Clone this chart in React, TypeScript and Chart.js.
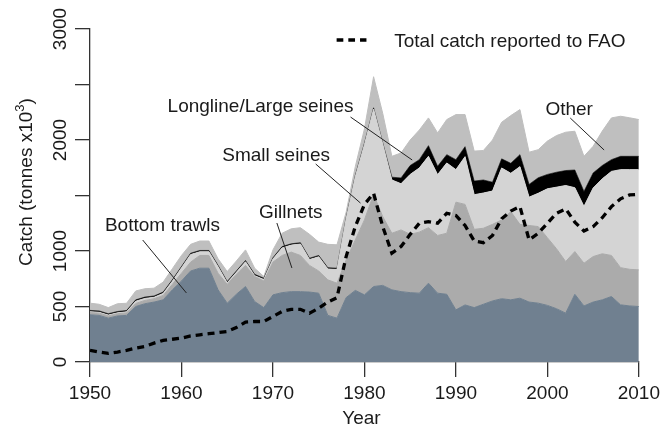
import React, { useEffect, useRef } from "react";
import { Chart, registerables } from "chart.js";

Chart.register(...registerables);

// ---------- DATA ----------
const years = [
  1950, 1951, 1952, 1953, 1954, 1955, 1956, 1957, 1958, 1959,
  1960, 1961, 1962, 1963, 1964, 1965, 1966, 1967, 1968, 1969,
  1970, 1971, 1972, 1973, 1974, 1975, 1976, 1977, 1978, 1979,
  1980, 1981, 1982, 1983, 1984, 1985, 1986, 1987, 1988, 1989,
  1990, 1991, 1992, 1993, 1994, 1995, 1996, 1997, 1998, 1999,
  2000, 2001, 2002, 2003, 2004, 2005, 2006, 2007, 2008, 2009, 2010,
];

const bottomTrawls = [
  425, 420, 395, 415, 420, 500, 525, 540, 560, 650,
  730, 820, 845, 845, 650, 530, 610, 680, 545, 490,
  605, 625, 634, 634, 630, 620, 420, 395, 580, 645,
  605, 680, 690, 650, 634, 625, 620, 710, 620, 610,
  470, 514, 490, 520, 550, 570, 560, 575, 540, 530,
  510, 480, 440, 610, 505, 540, 560, 590, 515, 505, 500,
];

const gillnets = [
  20, 20, 20, 20, 22, 28, 30, 30, 40, 50,
  70, 80, 115, 115, 150, 170, 180, 190, 225, 240,
  295, 335, 356, 326, 240, 200, 320, 315, 340, 455,
  675, 830, 620, 510, 556, 525, 550, 500, 520, 550,
  970, 906, 705, 685, 690, 710, 795, 665, 690, 690,
  610, 540, 465, 385, 385, 410, 415, 370, 335, 330, 330,
];

const smallSeines = [
  8, 8, 8, 8, 10, 20, 18, 13, 18, 28,
  48, 68, 33, 33, 58, 13, 18, 33, 8, 13,
  28, 68, 63, 103, 53, 128, 98, 123, 368, 568,
  678, 768, 653, 480, 416, 540, 578, 643, 548, 633,
  293, 430, 312, 317, 300, 468, 345, 520, 255, 300,
  440, 555, 685, 575, 512, 617, 675, 757, 883, 898, 903,
];

const longlineLargeSeines = [
  12, 12, 12, 12, 12, 12, 12, 12, 12, 12,
  12, 12, 12, 12, 12, 12, 12, 12, 12, 12,
  12, 12, 12, 12, 12, 12, 12, 12, 12, 12,
  12, 12, 12, 25, 52, 80, 75, 96, 75, 75,
  90, 90, 123, 118, 80, 82, 90, 108, 115, 140,
  130, 135, 135, 160, 135, 136, 120, 106, 120, 120, 120,
];

const other = [
  65, 60, 55, 70, 65, 80, 75, 70, 90, 100,
  100, 80, 85, 85, 60, 90, 90, 95, 55, 15,
  70, 120, 135, 135, 215, 120, 210, 211, 50, 80,
  130, 280, 265, 188, 225, 230, 267, 250, 301, 316,
  406, 289, 270, 265, 380, 330, 430, 406, 290, 253,
  300, 330, 345, 349, 316, 240, 310, 376, 361, 347, 331,
];

const faoReported = [
  105, 90, 78, 90, 105, 125, 140, 170, 195, 205,
  215, 235, 245, 255, 265, 275, 310, 360, 365, 365,
  410, 455, 475, 475, 440, 485, 540, 580, 950, 1220,
  1420, 1520, 1220, 980, 1040, 1150, 1250, 1265, 1250, 1340,
  1320, 1230, 1090, 1075, 1140, 1290, 1360, 1400, 1100, 1160,
  1250, 1340, 1380, 1260, 1180, 1220, 1300, 1400, 1470, 1505, 1510,
];

const xTickLabels = [1950, 1960, 1970, 1980, 1990, 2000, 2010];
const yTicks = [0, 500, 1000, 1500, 2000, 2500, 3000];
const yTickLabels = [0, 500, 1000, 2000, 3000];

const seriesNames = ["Bottom trawls", "Gillnets", "Small seines", "Longline/Large seines", "Other"];
const legendLabel = "Total catch reported to FAO";

// annotation labels and leader lines, in data units (year, catch)
const annotations = [
  { text: "Longline/Large seines", tx: 1958.48, ty: 2252, x1: 1978.48, y1: 2207, x2: 1985.22, y2: 1820 },
  { text: "Small seines", tx: 1964.46, ty: 1811, x1: 1974.67, y1: 1784, x2: 1979.57, y2: 1432 },
  { text: "Gillnets", tx: 1968.48, ty: 1297, x1: 1970.43, y1: 1252, x2: 1972.07, y2: 847 },
  { text: "Bottom trawls", tx: 1951.63, ty: 1176, x1: 1955.76, y1: 1099, x2: 1960.54, y2: 622 },
  { text: "Other", tx: 1999.78, ty: 2225, x1: 2002.5, y1: 2198, x2: 2006.2, y2: 1910 },
];
const legendPos = { x1: 1976.96, x2: 1980.22, y: 2901, tx: 1983.26, ty: 2838 };

// ---------- STYLE ----------
const FONT = '"Liberation Sans", Arial, Helvetica, sans-serif';
const TEXT = "#1a1a1a";
const AXIS = "#333333";
const COLORS = ["#708090", "#ababab", "#d4d4d4", "#000000", "#bfbfbf"];

const pts = (vals: number[]) => vals.map((v, i) => ({ x: years[i], y: v }));

const overlayPlugin = {
  id: "overlay",
  afterDraw(chart: any) {
    const { ctx, chartArea } = chart;
    const xs = chart.scales.x;
    const ys = chart.scales.y;
    const f = (s: number) => `${s}px ${FONT}`;
    ctx.save();
    ctx.fillStyle = TEXT;

    // rotated y tick labels
    ctx.font = f(19);
    ctx.textAlign = "center";
    ctx.textBaseline = "alphabetic";
    for (const v of yTickLabels) {
      const py = ys.getPixelForValue(v);
      ctx.save();
      ctx.translate(chartArea.left - 24, py);
      ctx.rotate(-Math.PI / 2);
      ctx.fillText(String(v), 0, 0);
      ctx.restore();
    }

    // y title with superscript
    {
      const main = "Catch (tonnes x10";
      const sup = "3";
      const tail = ")";
      ctx.font = f(19);
      const wMain = ctx.measureText(main).width;
      const wTail = ctx.measureText(tail).width;
      ctx.font = f(13);
      const wSup = ctx.measureText(sup).width;
      const total = wMain + wSup + wTail;
      ctx.save();
      ctx.translate(chartArea.left - 58, 182);
      ctx.rotate(-Math.PI / 2);
      ctx.textAlign = "left";
      let cx = -total / 2;
      ctx.font = f(19);
      ctx.fillText(main, cx, 0);
      cx += wMain;
      ctx.font = f(13);
      ctx.fillText(sup, cx, -8);
      cx += wSup;
      ctx.font = f(19);
      ctx.fillText(tail, cx, 0);
      ctx.restore();
    }

    // x title
    ctx.font = f(19);
    ctx.textAlign = "center";
    ctx.fillText("Year", (chartArea.left + chartArea.right) / 2 - 3, 424);

    // annotations
    ctx.textAlign = "left";
    ctx.strokeStyle = "#222222";
    ctx.lineWidth = 1;
    for (const a of annotations) {
      ctx.fillText(a.text, xs.getPixelForValue(a.tx), ys.getPixelForValue(a.ty));
      ctx.beginPath();
      ctx.moveTo(xs.getPixelForValue(a.x1), ys.getPixelForValue(a.y1));
      ctx.lineTo(xs.getPixelForValue(a.x2), ys.getPixelForValue(a.y2));
      ctx.stroke();
    }

    // legend
    ctx.save();
    ctx.strokeStyle = "#000000";
    ctx.lineWidth = 3.3;
    ctx.setLineDash([6.7, 5]);
    ctx.beginPath();
    const ly = ys.getPixelForValue(legendPos.y);
    ctx.moveTo(xs.getPixelForValue(legendPos.x1), ly);
    ctx.lineTo(xs.getPixelForValue(legendPos.x2), ly);
    ctx.stroke();
    ctx.restore();
    ctx.fillText(legendLabel, xs.getPixelForValue(legendPos.tx), ys.getPixelForValue(legendPos.ty));

    ctx.restore();
  },
};

export default function App() {
  const ref = useRef<HTMLCanvasElement | null>(null);

  useEffect(() => {
    if (!ref.current) return;
    const layers = [bottomTrawls, gillnets, smallSeines, longlineLargeSeines, other];
    const datasets: any[] = layers.map((vals, i) => ({
      label: seriesNames[i],
      data: pts(vals),
      backgroundColor: COLORS[i],
      borderColor: COLORS[i],
      borderWidth: i === 3 ? 0.6 : 1,
      fill: i === 0 ? "origin" : "-1",
      pointRadius: 0,
      tension: 0,
      stack: "gear",
      order: 0,
    }));
    datasets.push({
      label: legendLabel,
      data: pts(faoReported),
      borderColor: "#000000",
      borderWidth: 3.3,
      borderDash: [7, 5],
      fill: false,
      pointRadius: 0,
      tension: 0,
      stack: "fao",
      order: -1,
    });

    const chart = new Chart(ref.current, {
      type: "line",
      data: { datasets },
      plugins: [overlayPlugin],
      options: {
        animation: false,
        responsive: false,
        devicePixelRatio: 1,
        layout: { padding: { left: 0, top: 29, right: 23, bottom: 0 } },
        plugins: { legend: { display: false }, tooltip: { enabled: false } },
        scales: {
          x: {
            type: "linear",
            min: 1950,
            max: 2010,
            afterBuildTicks: (s: any) => {
              s.ticks = xTickLabels.map((v) => ({ value: v }));
            },
            afterFit: (s: any) => {
              s.height = 74;
            },
            ticks: {
              callback: (v: any) => String(v),
              font: { family: FONT, size: 19 },
              color: TEXT,
              padding: 5,
              maxRotation: 0,
              autoSkip: false,
            },
            grid: {
              drawOnChartArea: false,
              drawTicks: true,
              tickLength: 15,
              color: AXIS,
              lineWidth: 1.3,
            },
            border: { display: true, color: AXIS, width: 1.3 },
          },
          y: {
            type: "linear",
            stacked: true,
            min: 0,
            max: 3000,
            afterBuildTicks: (s: any) => {
              s.ticks = yTicks.map((v) => ({ value: v }));
            },
            afterFit: (s: any) => {
              s.width = 90;
            },
            ticks: { display: false },
            grid: {
              drawOnChartArea: false,
              drawTicks: true,
              tickLength: 15,
              color: AXIS,
              lineWidth: 1.3,
            },
            border: { display: true, color: AXIS, width: 1.3 },
          },
        },
      } as any,
    });
    return () => chart.destroy();
  }, []);

  return (
    <div style={{ position: "absolute", left: 0, top: 0, width: 665, height: 436, background: "#ffffff" }}>
      <canvas ref={ref} width={665} height={436} style={{ display: "block" }} />
    </div>
  );
}
